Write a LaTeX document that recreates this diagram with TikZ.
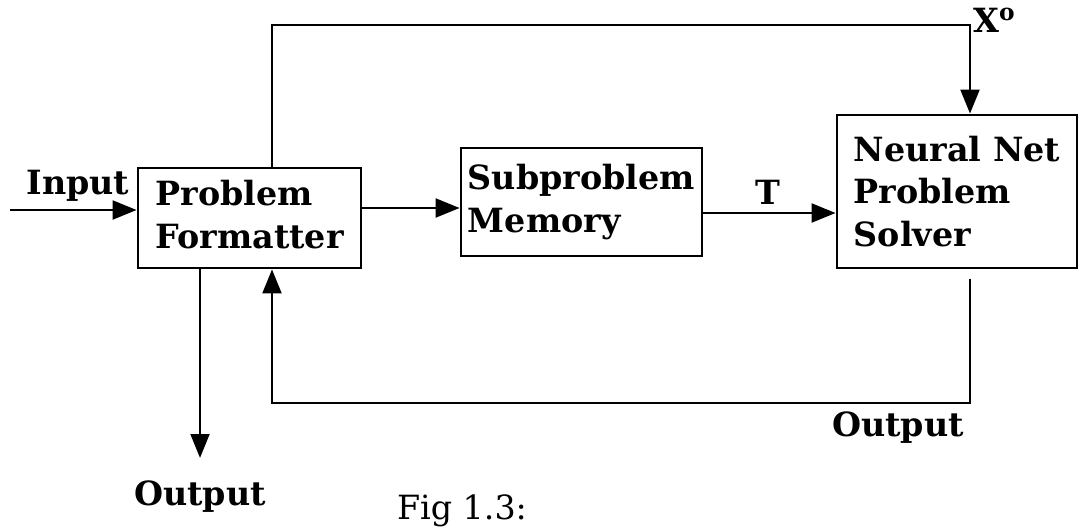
\documentclass[tikz,border=0pt]{standalone}
\usepackage{fontspec}
\setmainfont{DejaVu Serif}
\usetikzlibrary{arrows.meta}
\begin{document}
\begin{tikzpicture}[x=0.75pt,y=-0.75pt,
    blk/.style={draw,line width=2pt,align=left,inner sep=0pt,font=\bfseries\fontsize{25}{32}\selectfont},
    lbl/.style={inner sep=0pt,font=\bfseries\fontsize{25}{32}\selectfont},
    wire/.style={line width=2.2pt},
    arr/.style={wire,-{Triangle[length=18pt,width=14pt]}}]
  \useasboundingbox (0,0) rectangle (1082,529);
  \node[blk,minimum width=223*0.75pt,minimum height=100*0.75pt] (fmt) at (249.5,218) {Problem\\Formatter\vphantom{p}};
  \node[blk,minimum width=241*0.75pt,minimum height=108*0.75pt] (mem) at (581.5,202) {Subproblem\\Memory};
  \node[blk,minimum width=240*0.75pt,minimum height=153*0.75pt] (nn) at (957,191.5) {Neural Net\\Problem\\Solver};
  \coordinate (inp) at (10,210);
  \coordinate (fm) at (0,208);
  \coordinate (mt) at (0,213);
  \coordinate (xsplit) at (272,25);
  \coordinate (xin) at (970,25);
  \coordinate (fbr) at (970,403);
  \coordinate (outend) at (200,458);
  \draw[arr] (inp) -- (fmt.west |- inp);
  \draw[arr] (fmt.east |- fm) -- (mem.west |- fm);
  \draw[arr] (mem.east |- mt) -- (nn.west |- mt);
  \draw[arr] (fmt.north -| xsplit) -- (xsplit) -- (xin) -- (xin |- nn.north);
  \draw[arr] ([yshift=-7pt]nn.south -| fbr) -- (fbr) -- (fbr -| xsplit) -- (fmt.south -| xsplit);
  \draw[arr] (fmt.south -| outend) -- (outend);
  \node[lbl] (inl) at (78,186) {Input};
  \node[lbl] (tl) at (768,192) {T};
  \node[lbl,anchor=north west] (xl) at (973,8) {X\textsuperscript{o}};
  \node[lbl] (outr) at (898,428) {Output};
  \node[lbl] (outl) at (200,497) {Output};
  \node[inner sep=0pt,font=\fontsize{25}{32}\selectfont] (fig) at (462,511) {Fig 1.3:};
\end{tikzpicture}
\end{document}
